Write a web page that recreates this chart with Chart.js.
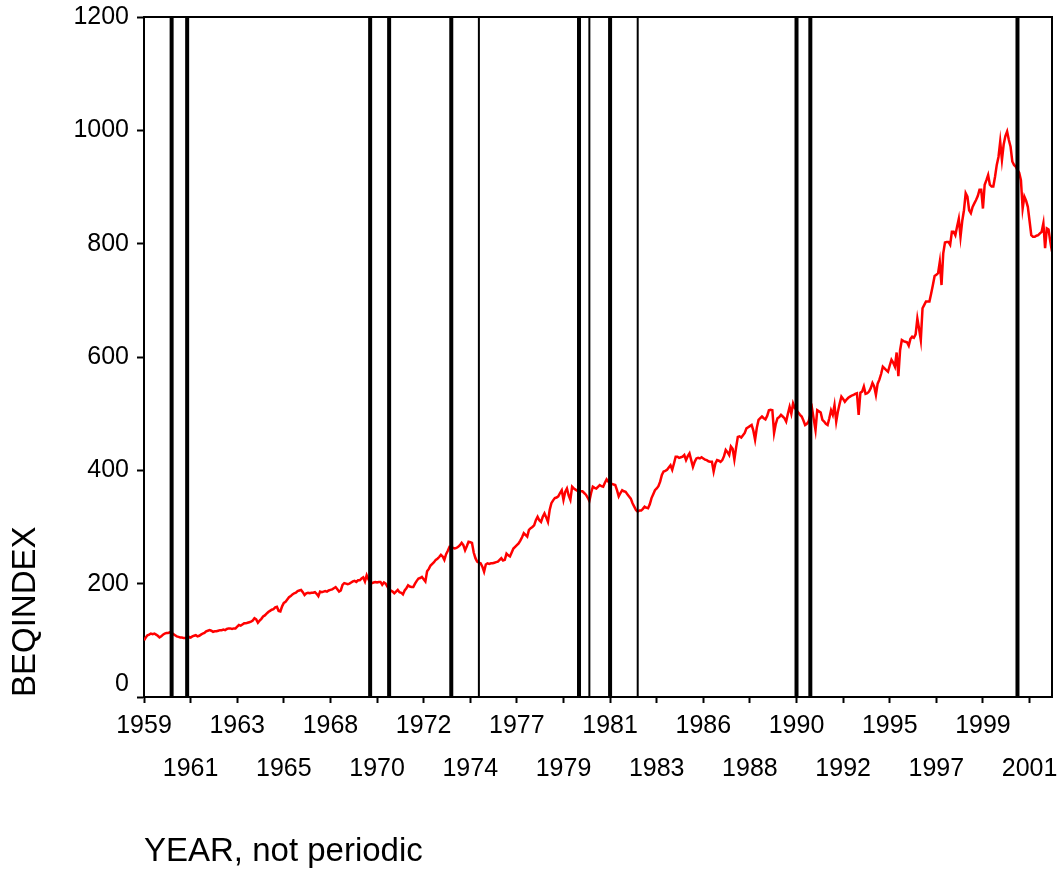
<!DOCTYPE html>
<html>
<head>
<meta charset="utf-8">
<script src="https://cdn.jsdelivr.net/npm/chart.js@4.4.1/dist/chart.umd.min.js"></script>
<style>
    html, body { margin: 0; padding: 0; background: #ffffff; }
    canvas { display: block; }
</style>
</head>
<body>
<canvas id="beqChart" width="1061" height="872"></canvas>
<script>
// monthly observations, 1959:01 .. 2002:11
const startYear = 1959;
const monthsPerTick = 27;

const xTickLabels = [
    "1959", "1961", "1963", "1965", "1968", "1970", "1972", "1974", "1977", "1979",
    "1981", "1983", "1986", "1988", "1990", "1992", "1995", "1997", "1999", "2001"
];
const yTickLabels = ["0", "200", "400", "600", "800", "1000", "1200"];

// months (index from 1959:01) where the black recession markers sit
const recessionMonths = [16, 25, 131, 142, 178, 194, 252, 258, 270, 286, 378, 386, 506];
const thinMarkers = [194, 258, 286];

const beqindex = [
    100, 105, 109, 110, 112, 111, 112, 110, 108, 105, 107, 110,   // 1959
    112, 113, 113, 114, 113, 111, 109, 107, 106, 105, 105, 104,   // 1960
    104, 104, 106, 105, 107, 108, 109, 107, 108, 110, 112, 113,   // 1961
    116, 117, 118, 117, 115, 116, 116, 117, 118, 118, 119, 118,   // 1962
    120, 121, 121, 120, 121, 121, 124, 127, 126, 128, 130, 130,   // 1963
    131, 132, 133, 135, 139, 137, 131, 135, 138, 142, 144, 147,   // 1964
    150, 152, 154, 155, 158, 159, 152, 151, 160, 166, 168, 172,   // 1965
    176, 178, 181, 183, 184, 187, 188, 189, 185, 180, 183, 184,   // 1966
    183, 184, 184, 185, 182, 178, 186, 185, 186, 187, 186, 188,   // 1967
    189, 190, 192, 194, 190, 186, 188, 198, 201, 200, 199, 200,   // 1968
    202, 204, 205, 203, 206, 206, 209, 211, 204, 215, 208, 202,   // 1969
    201, 202, 203, 202, 203, 203, 198, 202, 200, 195, 190, 188,   // 1970
    186, 183, 186, 189, 185, 184, 181, 188, 192, 197, 195, 194,   // 1971
    194, 200, 205, 209, 210, 212, 208, 204, 222, 226, 232, 235,   // 1972
    238, 242, 244, 247, 251, 248, 242, 252, 258, 265, 265, 263,   // 1973
    262, 263, 265, 268, 272, 268, 259, 266, 274, 273, 272, 255,   // 1974
    245, 239, 237, 236, 230, 221, 234, 236, 235, 236, 236, 237,   // 1975
    238, 239, 242, 245, 241, 242, 253, 250, 248, 255, 262, 265,   // 1976
    268, 271, 276, 282, 289, 286, 283, 295, 298, 300, 303, 312,   // 1977
    318, 312, 309, 318, 324, 317, 309, 330, 342, 347, 351, 352,   // 1978
    354, 360, 365, 348, 362, 368, 356, 348, 371, 368, 366, 364,   // 1979
    364, 363, 363, 360, 357, 352, 346, 360, 371, 369, 368, 371,   // 1980
    374, 372, 371, 378, 384, 380, 377, 376, 375, 374, 365, 354,   // 1981
    360, 365, 363, 362, 358, 354, 350, 342, 336, 330, 327, 329,   // 1982
    329, 332, 336, 334, 333, 340, 351, 358, 365, 368, 372, 380,   // 1983
    392, 398, 399, 401, 405, 409, 401, 412, 424, 424, 422, 423,   // 1984
    424, 427, 418, 425, 430, 418, 406, 415, 421, 422, 421, 423,   // 1985
    421, 419, 418, 416, 415, 415, 398, 412, 418, 417, 415, 418,   // 1986
    425, 436, 432, 427, 442, 438, 419, 440, 459, 460, 458, 462,   // 1987
    466, 474, 476, 478, 480, 470, 454, 475, 489, 492, 495, 492,   // 1988
    490, 496, 506, 507, 506, 466, 482, 492, 494, 498, 495, 492,   // 1989
    486, 500, 512, 500, 518, 510, 506, 502, 498, 495, 488, 480,   // 1990
    482, 486, 498, 509, 490, 471, 506, 504, 502, 489, 486, 482,   // 1991
    480, 492, 506, 498, 515, 486, 504, 518, 530, 526, 521, 525,   // 1992
    528, 530, 532, 533, 535, 536, 498, 537, 539, 548, 535, 536,   // 1993
    539, 545, 554, 548, 533, 553, 560, 570, 583, 580, 577, 574,   // 1994
    585, 595, 590, 583, 608, 566, 612, 630, 628, 627, 626, 620,   // 1995
    632, 636, 634, 640, 668, 650, 630, 686, 692, 698, 698, 698,   // 1996
    712, 727, 743, 745, 748, 768, 727, 783, 802, 803, 803, 798,   // 1997
    821, 821, 815, 830, 844, 812, 840, 859, 889, 883, 859, 854,   // 1998
    865, 871, 877, 884, 895, 895, 862, 904, 912, 921, 904, 901,   // 1999
    901, 918, 939, 953, 980, 948, 975, 990, 998, 983, 971, 945,   // 2000
    939, 936, 930, 925, 912, 862, 883, 876, 865, 840, 815, 812,   // 2001
    812, 814, 815, 818, 821, 836, 792, 827, 825, 804, 786         // 2002
];

const FONT = "'Liberation Sans', Arial, sans-serif";

const frame = {
    id: "frame",
    afterDatasetsDraw(chart) {
        const { ctx, chartArea } = chart;
        ctx.save();
        ctx.strokeStyle = "#000";
        ctx.lineWidth = 2;
        ctx.beginPath();
        ctx.moveTo(chartArea.left, chartArea.top);
        ctx.lineTo(chartArea.right, chartArea.top);
        ctx.lineTo(chartArea.right, chartArea.bottom);
        ctx.stroke();
        ctx.restore();
    }
};

const recessionSets = recessionMonths.map(m => ({
    data: [{ x: m, y: 0 }, { x: m, y: 1200 }],
    borderColor: "#000",
    borderWidth: thinMarkers.includes(m) ? 2 : 4,
    pointRadius: 0,
    order: 0
}));

new Chart(document.getElementById("beqChart"), {
    type: "line",
    data: {
        datasets: [{
            label: "BEQINDEX",
            data: beqindex.map((v, i) => ({ x: i, y: v })),
            borderColor: "#ff0000",
            borderWidth: 2.5,
            pointRadius: 0,
            tension: 0,
            order: 1
        }].concat(recessionSets)
    },
    options: {
        responsive: false,
        animation: false,
        devicePixelRatio: 1,
        layout: { padding: { top: 17, right: 9, left: 0, bottom: 0 } },
        plugins: { legend: { display: false }, tooltip: { enabled: false } },
        scales: {
            x: {
                type: "linear",
                min: 0,
                max: beqindex.length - 1,
                afterBuildTicks(scale) {
                    scale.ticks = xTickLabels.map((_, i) => ({ value: i * monthsPerTick }));
                },
                afterFit(scale) { scale.height = 175; },
                border: { display: true, color: "#000", width: 2 },
                grid: { drawOnChartArea: false, drawTicks: true, tickLength: 6, tickColor: "#000", tickWidth: 2 },
                ticks: {
                    color: "#000",
                    padding: 1,
                    maxRotation: 0,
                    autoSkip: false,
                    font: { family: FONT, size: 25, lineHeight: 1.74 },
                    callback(value, index) {
                        const label = xTickLabels[index];
                        return index % 2 === 0 ? [label, ""] : ["", label];
                    }
                },
                title: {
                    display: true,
                    text: "YEAR, not periodic",
                    align: "start",
                    color: "#000",
                    font: { family: FONT, size: 33 },
                    padding: { top: 0, bottom: 0 }
                }
            },
            y: {
                min: 0,
                max: 1200,
                afterBuildTicks(scale) {
                    scale.ticks = yTickLabels.map(t => ({ value: Number(t) }));
                },
                afterFit(scale) {
                    scale.width = 144;
                    scale.paddingTop = 0;
                },
                border: { display: true, color: "#000", width: 2 },
                grid: { drawOnChartArea: false, drawTicks: true, tickLength: 7, tickColor: "#000", tickWidth: 2 },
                ticks: {
                    color: "#000",
                    padding: 8,
                    font: { family: FONT, size: 25, lineHeight: 1.04 },
                    callback(value, index) {
                        const label = yTickLabels[index];
                        return label === "0" ? [label, ""] : label;
                    }
                },
                title: {
                    display: true,
                    text: "BEQINDEX",
                    align: "start",
                    color: "#000",
                    font: { family: FONT, size: 33 },
                    padding: { top: 6, bottom: 0 }
                }
            }
        }
    },
    plugins: [frame]
});
</script>
</body>
</html>
